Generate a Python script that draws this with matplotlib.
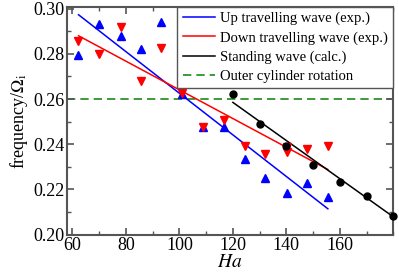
import numpy as np
import matplotlib
matplotlib.use("Agg")
import matplotlib.pyplot as plt
from matplotlib.ticker import MultipleLocator

plt.rcParams["font.family"] = ["Liberation Serif", "DejaVu Serif"]
plt.rcParams["mathtext.fontset"] = "stix"

### Data
ha_up = [62, 70, 78, 85.5, 93.2, 101, 108.7, 116.6, 124.5, 132.1, 140.1, 147.7, 155.5]
freq_up = [0.2795, 0.2932, 0.2880, 0.2822, 0.2941, 0.2622, 0.2474, 0.2477,
           0.2336, 0.2252, 0.2184, 0.2228, 0.2166]

ha_down = [62, 70, 78, 85.5, 93.2, 101, 108.7, 116.6, 124.5, 132.1, 140.1, 140.1, 147.7, 155.5]
freq_down = [0.2858, 0.2799, 0.2917, 0.2680, 0.2825, 0.2628, 0.2474, 0.2507,
             0.2393, 0.2355, 0.2366, 0.2387, 0.2378, 0.2393]

ha_stand = [120, 130, 140, 150, 160, 170, 180]
freq_stand = [0.2622, 0.2489, 0.2392, 0.2310, 0.2233, 0.2169, 0.2081]

# fitted lines (end points)
fit_up_x = [62.3, 155.5]
fit_up_y = [0.2973, 0.2114]
fit_down_x = [62.3, 155.5]
fit_down_y = [0.2880, 0.2288]
fit_stand_x = [120, 180]
fit_stand_y = [0.2585, 0.2078]

outer_rot = 0.26

fig = plt.figure(figsize=(3.99, 2.74), dpi=100)
ax = fig.add_axes([0.168, 0.144, 0.818, 0.831])

ax.axhline(outer_rot, color="#1a8a1a", ls=(0, (5, 3)), lw=1.2,
           label="Outer cylinder rotation", zorder=1)
ax.plot(fit_up_x, fit_up_y, color="blue", lw=1.1, label="Up travelling wave (exp.)", zorder=2)
ax.plot(fit_down_x, fit_down_y, color="red", lw=1.1, label="Down travelling wave (exp.)", zorder=2)
ax.plot(fit_stand_x, fit_stand_y, color="black", lw=1.1, label="Standing wave (calc.)", zorder=2)

ax.plot(ha_up, freq_up, ls="none", marker="^", ms=5.5, color="blue", zorder=3)
ax.plot(ha_down, freq_down, ls="none", marker="v", ms=5.5, color="red", zorder=3)
ax.plot(ha_stand, freq_stand, ls="none", marker="o", ms=5, color="black", zorder=4,
        clip_on=False)

ax.set_xlim(58, 180)
ax.set_ylim(0.2, 0.3008)
ax.set_xticks([60, 80, 100, 120, 140, 160])
ax.xaxis.set_minor_locator(MultipleLocator(10))
ax.set_yticks([0.20, 0.22, 0.24, 0.26, 0.28, 0.30])
ax.yaxis.set_minor_locator(MultipleLocator(0.01))
ax.yaxis.set_major_formatter(matplotlib.ticker.FormatStrFormatter("%.2f"))

ax.tick_params(which="both", direction="in", top=True, right=True,
               labelsize=13, color="#555555", pad=2)
ax.tick_params(which="major", length=5, width=1.2)
ax.tick_params(which="minor", length=3, width=1.0)
for s in ax.spines.values():
    s.set_color("#555555")
    s.set_linewidth(1.5)

ax.set_xlabel("$Ha$", fontsize=14, labelpad=0)
ax.set_ylabel(r"frequency/$\Omega_\mathrm{i}$", fontsize=13, labelpad=2)

handles, labels = ax.get_legend_handles_labels()
order = [1, 2, 3, 0]
leg = ax.legend([handles[i] for i in order], [labels[i] for i in order],
                loc="upper right", fontsize=10.5, fancybox=False, framealpha=1,
                edgecolor="#555555", borderaxespad=0, handlelength=2.2,
                handletextpad=0.4, labelspacing=0.4, borderpad=0.35)
leg.get_frame().set_linewidth(1.0)

fig.savefig("out.png", dpi=100)
